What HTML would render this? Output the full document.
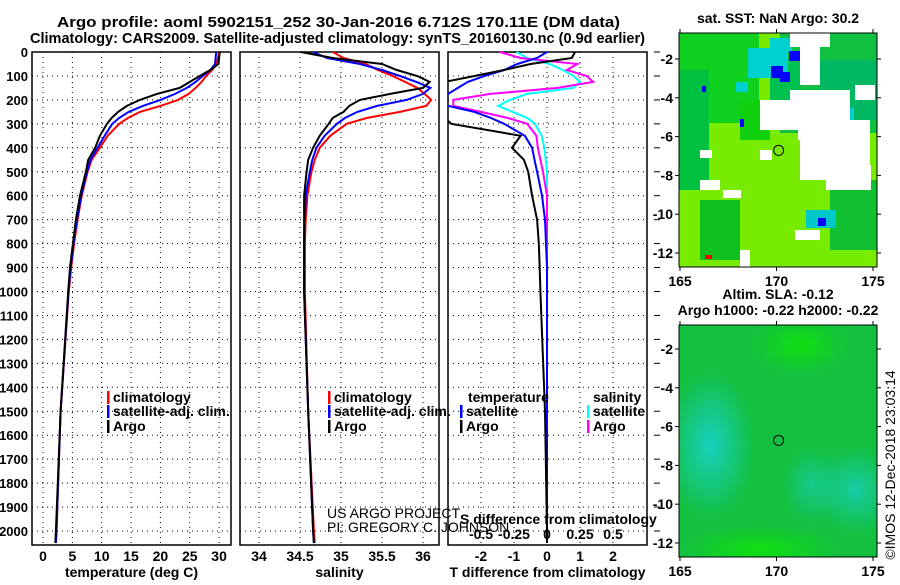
<!DOCTYPE html>
<html><head><meta charset="utf-8"><style>
body{margin:0;background:#fff;}
svg text{font-family:"Liberation Sans",sans-serif;font-weight:bold;font-size:14px;fill:#000;}
</style></head><body>
<svg id="c" width="900" height="580" xmlns="http://www.w3.org/2000/svg">
<defs>
<radialGradient id="g1" cx="0.5" cy="0.5" r="0.5"><stop offset="0" stop-color="#16d0c0"/><stop offset="1" stop-color="#16d0c0" stop-opacity="0"/></radialGradient>
<radialGradient id="g2" cx="0.5" cy="0.5" r="0.5"><stop offset="0" stop-color="#10e010"/><stop offset="1" stop-color="#10e010" stop-opacity="0"/></radialGradient>
<clipPath id="cm1"><rect x="679" y="33" width="198" height="234"/></clipPath>
<clipPath id="cm2"><rect x="679" y="325" width="198" height="232"/></clipPath>
</defs>
<text x="57" y="27" textLength="563" lengthAdjust="spacingAndGlyphs" style="font-size:15px">Argo profile: aoml 5902151_252 30-Jan-2016 6.712S 170.11E (DM data)</text>
<text x="30" y="43" textLength="615" lengthAdjust="spacingAndGlyphs" style="font-size:15px">Climatology: CARS2009. Satellite-adjusted climatology: synTS_20160130.nc (0.9d earlier)</text>
<g id="p1"></g>
<g id="p2"></g>
<g id="p3"></g>
<g id="m1"></g>
<g id="m2"></g>
<text transform="translate(895,465) rotate(-90)" text-anchor="middle" style="font-weight:normal">©IMOS 12-Dec-2018 23:03:14</text>
</svg>
<script>
const depths=[0,25,50,75,100,125,150,175,200,225,250,275,300,350,400,450,500,600,700,800,900,1000,1500,2000,2050];
const tArgo=[30.1,30,29.9,28.5,26.7,25,23.3,19.4,16.5,14.3,12.8,11.7,10.9,9.7,8.9,7.7,7.3,6.3,5.6,5.1,4.6,4.3,3,2.2,2.1];
const tClim=[30,29.8,29.5,28.8,27.8,27,26,24.8,23,20,16.5,14.5,13,11,9.7,8.3,7.6,6.6,5.9,5.3,4.8,4.4,3,2.3,2.2];
const tSat=[29.5,29.4,29.3,28.5,27.2,26,24.5,22.5,20,17,14.6,13,11.8,10.5,9.3,8.1,7.5,6.5,5.8,5.2,4.7,4.35,3,2.3,2.2];
const sArgo=[34.51,34.9,35.5,35.68,35.93,36.08,36,35.6,35.23,35.1,35.03,34.9,34.85,34.74,34.66,34.6,34.58,34.55,34.55,34.55,34.55,34.55,34.6,34.66,34.67];
const sClim=[34.9,35.03,35.3,35.45,35.63,35.78,35.93,36.02,36.1,36.04,35.72,35.32,35.07,34.87,34.74,34.68,34.64,34.59,34.57,34.56,34.56,34.56,34.6,34.67,34.68];
const sSat=[34.66,34.83,35.23,35.5,35.72,35.92,36.09,36,35.8,35.44,35.2,35.05,34.95,34.8,34.7,34.65,34.62,34.57,34.56,34.55,34.55,34.55,34.6,34.66,34.67];
const dTArgo=[0.85,0.75,-0.5,-1.3,-2.2,-3.1,-3.2,-3.3,-3.3,-3.3,-3.2,-3.1,-2.9,-0.8,-1.06,-0.7,-0.57,-0.45,-0.3,-0.25,-0.22,-0.2,-0.06,0,0];
const dTSat=[0,-0.3,-0.9,-1.3,-1.9,-2.4,-2.7,-3,-3.1,-3,-2.2,-1.7,-1.3,-0.67,-0.45,-0.38,-0.3,-0.15,-0.06,-0.03,0,0,0,0,0];
const dSArgo=[-0.36,-0.2,0.23,0.15,0.3,0.35,0.08,-0.43,-0.71,-0.71,-0.5,-0.3,-0.15,-0.08,-0.07,-0.05,-0.03,0,0,0,0,0,0,0,0];
const dSSat=[-0.23,-0.15,0.02,0.12,0.2,0.25,0.2,-0.15,-0.28,-0.37,-0.26,-0.15,-0.09,-0.04,-0.02,-0.01,0,0,0,0,0,0,0,0,0];
const depthTicks=[0,100,200,300,400,500,600,700,800,900,1000,1100,1200,1300,1400,1500,1600,1700,1800,1900,2000];
const tTicks=[0,5,10,15,20,25,30];
const sTicks=[34,34.5,35,35.5,36];
const sTickLabels=["34","34.5","35","35.5","36"];
const dtTicks=[-2,-1,0,1,2];
const dsTicks=[-0.5,-0.25,0,0.25,0.5];
const latTicks=[-2,-4,-6,-8,-10,-12];
const lonTicks=[165,170,175];

const NS="http://www.w3.org/2000/svg";
const svg=document.getElementById('c');
function mk(parent,tag,attrs,txt){const e=document.createElementNS(NS,tag);for(const k in attrs)e.setAttribute(k,attrs[k]);if(txt!==undefined)e.textContent=txt;parent.appendChild(e);return e;}
const Y0=52,YB=545;
function yD(d){return Y0+d*0.2395;}
function clip(id,x0,x1){const cp=mk(svg.querySelector('defs'),'clipPath',{id:id});mk(cp,'rect',{x:x0,y:Y0-3,width:x1-x0,height:YB-Y0+3});}

function panel(g,x0,x1,xs,xticks,labels,xlab,showDepth){
  xticks.forEach((v,i)=>{
    const l=mk(g,'line',{x1:xs(v),x2:xs(v),y1:Y0,y2:YB,stroke:'#000','stroke-dasharray':'1,4','stroke-width':1});
    
    
    if(labels){const t=mk(g,'text',{x:xs(v),y:561,'text-anchor':'middle'},labels[i]);
    
    }
  });
  depthTicks.forEach(d=>{
    const l=mk(g,'line',{x1:x0,x2:x1,y1:yD(d),y2:yD(d),stroke:'#000','stroke-dasharray':'1,4','stroke-width':1});
    
    
    if(showDepth){const t=mk(g,'text',{x:28,y:yD(d)+5,'text-anchor':'end',style:'font-size:13px'},String(d));
    
    }
  });
  const r=mk(g,'rect',{x:x0,y:Y0,width:x1-x0,height:YB-Y0,fill:'none',stroke:'#000','stroke-width':1.5});
  
  
  const t=mk(g,'text',{x:(x0+x1)/2,y:577,'text-anchor':'middle'},xlab);
  
  
}
function line(g,vals,xs,color,name,cid){
  const d=vals.map((v,i)=>(i?'L':'M')+xs(v).toFixed(1)+','+yD(depths[i]).toFixed(1)).join('');
  const p=mk(g,'path',{d:d,fill:'none',stroke:color,'stroke-width':2,'clip-path':'url(#'+cid+')'});
  
  
}
function legend(g,x,y,color,label){
  const b=mk(g,'rect',{x:x,y:y-11,width:2.5,height:13,fill:color});
  
  
  const t=mk(g,'text',{x:x+6,y:y},label);
  
  
}
const p1=document.getElementById('p1');
const xT=v=>43+v*5.87;
clip('c1',32,231);
panel(p1,32,231,xT,tTicks,tTicks.map(String),'temperature (deg C)',true);
line(p1,tClim,xT,'#f00','temp-climatology-line','c1');
line(p1,tSat,xT,'#00f','temp-satellite-line','c1');
line(p1,tArgo,xT,'#000','temp-argo-line','c1');
legend(p1,107,402,'#f00','climatology');
legend(p1,107,416,'#00f','satellite-adj. clim.');
legend(p1,107,431,'#000','Argo');
const p2=document.getElementById('p2');
const xS=v=>259+(v-34)*82;
clip('c2',240,439);
panel(p2,240,439,xS,sTicks,sTickLabels,'salinity',false);
line(p2,sClim,xS,'#f00','sal-climatology-line','c2');
line(p2,sSat,xS,'#00f','sal-satellite-line','c2');
line(p2,sArgo,xS,'#000','sal-argo-line','c2');
legend(p2,328,402,'#f00','climatology');
legend(p2,328,416,'#00f','satellite-adj. clim.');
legend(p2,328,431,'#000','Argo');
const u1=mk(p2,'text',{x:327,y:518,style:'font-weight:normal'},'US ARGO PROJECT');


const u2=mk(p2,'text',{x:327,y:532,style:'font-weight:normal'},'PI: GREGORY C. JOHNSON');


const p3=document.getElementById('p3');
const xDT=v=>547+v*33;
const xDS=v=>547+v*132;
clip('c3',448,647);
panel(p3,448,647,xDT,dtTicks,dtTicks.map(String),'T difference from climatology',false);
depthTicks.forEach(d=>{const l=mk(p3,'line',{x1:654,x2:660,y1:yD(d),y2:yD(d),stroke:'#000'});

});
line(p3,dSSat,xDS,'#0ff','sal-diff-satellite-line','c3');
line(p3,dSArgo,xDS,'#f0f','sal-diff-argo-line','c3');
line(p3,dTSat,xDT,'#00f','temp-diff-satellite-line','c3');
line(p3,dTArgo,xDT,'#000','temp-diff-argo-line','c3');
const st=mk(p3,'text',{x:468,y:402},'temperature');


legend(p3,460,416,'#00f','satellite');
legend(p3,460,431,'#000','Argo');
const ss=mk(p3,'text',{x:593,y:402},'salinity');


legend(p3,587,416,'#0ff','satellite');
legend(p3,587,431,'#f0f','Argo');
const sdt=mk(p3,'text',{x:460,y:524},'S difference from climatology');


dsTicks.forEach(v=>{const t=mk(p3,'text',{x:xDS(v),y:539,'text-anchor':'middle'},String(v));

});

function mapFrame(g,x0,y0,x1,y1,latY,title1,title2){
  const lonX=v=>680+(v-165)*19.3;
  const r=mk(g,'rect',{x:x0,y:y0,width:x1-x0,height:y1-y0,fill:'none',stroke:'#000','stroke-width':1});
  
  
  latTicks.forEach(v=>{
    const y=latY(v);
    mk(g,'line',{x1:x0-4,x2:x0,y1:y,y2:y,stroke:'#000'});
    mk(g,'line',{x1:x1,x2:x1+4,y1:y,y2:y,stroke:'#000'});
    const t=mk(g,'text',{x:x0-6,y:y+5,'text-anchor':'end'},String(v));
    
    
  });
  lonTicks.forEach(v=>{
    const x=lonX(v);
    mk(g,'line',{x1:x,x2:x,y1:y0-4,y2:y0,stroke:'#000'});
    mk(g,'line',{x1:x,x2:x,y1:y1,y2:y1+4,stroke:'#000'});
    const t=mk(g,'text',{x:x,y:y1+19,'text-anchor':'middle'},String(v));
    
    
  });
  const c=mk(g,'circle',{cx:lonX(170.11),cy:latY(-6.712),r:5,fill:'none',stroke:'#000','stroke-width':1});
  
  
  const t1=mk(g,'text',{x:778,y:y0-(title2?26:10),'text-anchor':'middle'},title1);
  
  
  if(title2){const t2=mk(g,'text',{x:778,y:y0-10,'text-anchor':'middle'},title2);
  
  }
}
const m1=document.getElementById('m1');
const m1c=mk(m1,'g',{'clip-path':'url(#cm1)'});
mk(m1c,'rect',{x:679,y:33,width:198,height:234,fill:'#77ec00'});
[[679,33,80,90,'#10d020'],[679,70,30,120,'#00c040'],[780,33,97,100,'#10c040'],[820,60,57,60,'#00b860'],[740,100,30,40,'#10d010'],[830,180,47,70,'#10c030'],[700,200,40,60,'#10c020'],[770,60,30,60,'#00c050']].forEach(b=>{mk(m1c,'rect',{x:b[0],y:b[1],width:b[2],height:b[3],fill:b[4]});});
[[748,48,40,30,'#00d0d0'],[770,38,22,14,'#00d0d0'],[832,108,22,12,'#00d0d0'],[806,210,30,18,'#00c8c8'],[736,82,12,10,'#00d0d0']].forEach(b=>{mk(m1c,'rect',{x:b[0],y:b[1],width:b[2],height:b[3],fill:b[4]});});
[[790,33,40,14],[800,45,20,40],[760,100,36,30],[790,90,60,40],[800,120,70,60],[826,165,45,25],[700,180,20,10],[723,190,18,8],[740,250,10,17],[798,110,20,30],[855,85,20,15],[760,150,12,10],[700,150,12,8],[795,230,25,10]].forEach(b=>{mk(m1c,'rect',{x:b[0],y:b[1],width:b[2],height:b[3],fill:'#fff'});});
[[789,51,11,10],[771,66,12,12],[780,72,10,10],[740,119,4,8],[818,218,8,8],[702,86,4,6]].forEach(b=>{mk(m1c,'rect',{x:b[0],y:b[1],width:b[2],height:b[3],fill:'#00f'});});
mk(m1c,'rect',{x:705,y:255,width:7,height:4,fill:'#f00'});
mapFrame(m1,679,33,877,267,v=>59+(-2-v)*19.4,'sat. SST: NaN Argo: 30.2');
const m2=document.getElementById('m2');
const m2c=mk(m2,'g',{'clip-path':'url(#cm2)'});
mk(m2c,'rect',{x:679,y:325,width:198,height:232,fill:'#14c040'});
mk(m2c,'ellipse',{cx:710,cy:445,rx:45,ry:75,fill:'url(#g1)'});
mk(m2c,'ellipse',{cx:855,cy:490,rx:40,ry:45,fill:'url(#g1)','opacity':0.8});
mk(m2c,'ellipse',{cx:812,cy:485,rx:30,ry:40,fill:'url(#g1)','opacity':0.6});
mk(m2c,'ellipse',{cx:800,cy:345,rx:50,ry:30,fill:'url(#g2)'});
mk(m2c,'ellipse',{cx:760,cy:550,rx:80,ry:25,fill:'url(#g2)'});
mapFrame(m2,679,325,877,557,v=>349+(-2-v)*19.4,'Altim. SLA: -0.12','Argo h1000: -0.22 h2000: -0.22');
</script>
</body></html>
